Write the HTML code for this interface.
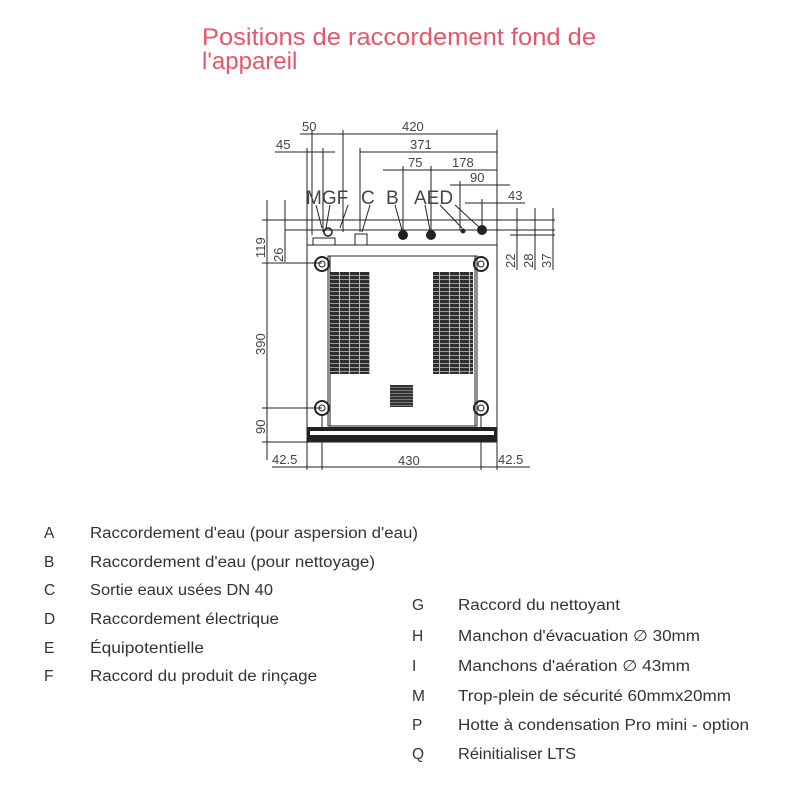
<!DOCTYPE html>
<html><head><meta charset="utf-8"><style>
html,body{margin:0;padding:0;background:#fff;width:800px;height:800px;overflow:hidden}
svg{display:block}
.t{font-family:"Liberation Sans",sans-serif;fill:#333}
</style></head><body>
<svg width="800" height="800" viewBox="0 0 800 800" xmlns="http://www.w3.org/2000/svg">
<defs>
<pattern id="grl" x="0" y="272" width="10" height="4" patternUnits="userSpaceOnUse">
<rect width="10" height="4" fill="#2e2e2e"/>
<rect y="3" width="10" height="1" fill="#9a9a9a"/>
<rect x="9" width="1" height="4" fill="#bbb"/>
</pattern>
<pattern id="sq" x="0" y="385" width="3" height="3" patternUnits="userSpaceOnUse">
<rect width="3" height="3" fill="#333"/><rect y="2" width="3" height="1" fill="#777"/>
</pattern>
</defs>
<text x="202" y="45" font-family="Liberation Sans,sans-serif" font-size="24" fill="#e5566a" textLength="394" lengthAdjust="spacingAndGlyphs">Positions de raccordement fond de</text>
<text x="202" y="69" font-family="Liberation Sans,sans-serif" font-size="24" fill="#e5566a">l'appareil</text>

<g stroke="#222" stroke-width="1" fill="none">
<rect x="307" y="220" width="190" height="222"/>
<line x1="307" y1="245" x2="497" y2="245"/>
<line x1="262" y1="220" x2="555" y2="220"/>
<line x1="285" y1="230" x2="555" y2="230"/>
<line x1="510" y1="235" x2="555" y2="235"/>
<rect x="328" y="256" width="149" height="170"/>
<line x1="330" y1="256" x2="330" y2="426"/>
<line x1="475" y1="256" x2="475" y2="426"/>
<circle cx="322" cy="264" r="7" stroke-width="2"/><circle cx="322" cy="264" r="3"/>
<circle cx="481" cy="264" r="7" stroke-width="2"/><circle cx="481" cy="264" r="3"/>
<circle cx="322" cy="408" r="7" stroke-width="2"/><circle cx="322" cy="408" r="3"/>
<circle cx="481" cy="408" r="7" stroke-width="2"/><circle cx="481" cy="408" r="3"/>
<line x1="300" y1="134" x2="497" y2="134"/>
<line x1="275" y1="152" x2="335" y2="152"/>
<line x1="360" y1="152" x2="497" y2="152"/>
<line x1="383" y1="170" x2="497" y2="170"/>
<line x1="450" y1="185" x2="510" y2="185"/>
<line x1="465" y1="203" x2="525" y2="203"/>
<line x1="497" y1="130" x2="497" y2="220"/>
<line x1="312" y1="130" x2="312" y2="235"/>
<line x1="307" y1="148" x2="307" y2="220"/>
<line x1="323" y1="148" x2="323" y2="232"/>
<line x1="343" y1="130" x2="343" y2="232"/>
<line x1="360" y1="148" x2="360" y2="232"/>
<line x1="403" y1="166" x2="403" y2="230"/>
<line x1="431" y1="166" x2="431" y2="230"/>
<line x1="460" y1="181" x2="460" y2="230"/>
<line x1="482" y1="199" x2="482" y2="230"/>
<line x1="316" y1="205" x2="322" y2="228"/>
<line x1="330" y1="205" x2="326" y2="228"/>
<line x1="348" y1="205" x2="340" y2="228"/>
<line x1="370" y1="205" x2="362" y2="232"/>
<line x1="395" y1="205" x2="402" y2="230"/>
<line x1="425" y1="205" x2="430" y2="230"/>
<line x1="440" y1="205" x2="462" y2="228"/>
<line x1="455" y1="205" x2="480" y2="228"/>
<line x1="267" y1="200" x2="267" y2="460"/>
<line x1="285" y1="200" x2="285" y2="262"/>
<line x1="262" y1="263" x2="322" y2="263"/>
<line x1="262" y1="408" x2="322" y2="408"/>
<line x1="262" y1="442" x2="307" y2="442"/>
<line x1="517" y1="208" x2="517" y2="270"/>
<line x1="535" y1="208" x2="535" y2="270"/>
<line x1="553" y1="208" x2="553" y2="270"/>
<line x1="272" y1="467" x2="530" y2="467"/>
<line x1="307" y1="442" x2="307" y2="470"/>
<line x1="322" y1="415" x2="322" y2="470"/>
<line x1="481" y1="415" x2="481" y2="470"/>
<line x1="497" y1="442" x2="497" y2="470"/>
<rect x="313" y="238" width="22" height="7"/>
<rect x="355" y="234" width="12" height="11"/>
</g>
<g fill="#222">
<rect x="307" y="427" width="190" height="15"/>
<rect x="310" y="431" width="184" height="4" fill="#fff"/>
<circle cx="403" cy="235" r="5"/>
<circle cx="431" cy="235" r="5"/>
<circle cx="463" cy="231" r="2.5"/>
<circle cx="482" cy="230" r="5"/>
<circle cx="328" cy="232" r="4" fill="none" stroke="#222" stroke-width="1.5"/>
</g>
<rect x="330" y="272" width="40" height="102" fill="url(#grl)"/>
<rect x="433" y="272" width="40" height="102" fill="url(#grl)"/>
<rect x="390" y="385" width="23" height="22" fill="url(#sq)"/>

<g font-family="Liberation Sans,sans-serif" fill="#444">
<text x="306" y="204" font-size="19">MGF</text>
<text x="361" y="204" font-size="19">C</text>
<text x="386" y="204" font-size="19">B</text>
<text x="414" y="204" font-size="19">AED</text>
<g font-size="13">
<text x="302" y="131">50</text>
<text x="402" y="131">420</text>
<text x="276" y="149">45</text>
<text x="410" y="149">371</text>
<text x="408" y="167">75</text>
<text x="452" y="167">178</text>
<text x="470" y="182">90</text>
<text x="508" y="200">43</text>
<text x="398" y="465">430</text>
<text x="272" y="464">42.5</text>
<text x="498" y="464">42.5</text>
<text transform="translate(265,258) rotate(-90)">119</text>
<text transform="translate(283,262) rotate(-90)">26</text>
<text transform="translate(265,355) rotate(-90)">390</text>
<text transform="translate(265,434) rotate(-90)">90</text>
<text transform="translate(515,268) rotate(-90)">22</text>
<text transform="translate(533,268) rotate(-90)">28</text>
<text transform="translate(551,268) rotate(-90)">37</text>
</g>
</g>

<g class="t" font-size="15.5">
<text x="44" y="538">A</text><text x="90" y="538" textLength="328" lengthAdjust="spacingAndGlyphs">Raccordement d'eau (pour aspersion d'eau)</text>
<text x="44" y="567">B</text><text x="90" y="567" textLength="285" lengthAdjust="spacingAndGlyphs">Raccordement d'eau (pour nettoyage)</text>
<text x="44" y="595">C</text><text x="90" y="595" textLength="183" lengthAdjust="spacingAndGlyphs">Sortie eaux usées DN 40</text>
<text x="44" y="624">D</text><text x="90" y="624" textLength="189" lengthAdjust="spacingAndGlyphs">Raccordement électrique</text>
<text x="44" y="653">E</text><text x="90" y="653" textLength="114" lengthAdjust="spacingAndGlyphs">Équipotentielle</text>
<text x="44" y="681">F</text><text x="90" y="681" textLength="227" lengthAdjust="spacingAndGlyphs">Raccord du produit de rinçage</text>
<text x="412" y="610">G</text><text x="458" y="610" textLength="162" lengthAdjust="spacingAndGlyphs">Raccord du nettoyant</text>
<text x="412" y="641">H</text><text x="458" y="641" textLength="242" lengthAdjust="spacingAndGlyphs">Manchon d'évacuation ∅ 30mm</text>
<text x="412" y="671">I</text><text x="458" y="671" textLength="232" lengthAdjust="spacingAndGlyphs">Manchons d'aération ∅ 43mm</text>
<text x="412" y="701">M</text><text x="458" y="701" textLength="273" lengthAdjust="spacingAndGlyphs">Trop-plein de sécurité 60mmx20mm</text>
<text x="412" y="730">P</text><text x="458" y="730" textLength="291" lengthAdjust="spacingAndGlyphs">Hotte à condensation Pro mini - option</text>
<text x="412" y="759">Q</text><text x="458" y="759" textLength="118" lengthAdjust="spacingAndGlyphs">Réinitialiser LTS</text>
</g>
</svg>
</body></html>
